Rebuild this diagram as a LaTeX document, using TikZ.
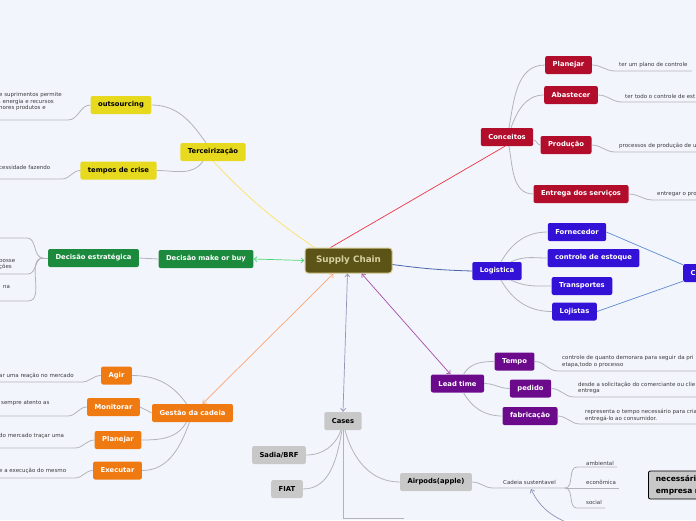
\documentclass[tikz,border=0pt]{standalone}
\usepackage{fontspec}
\setmainfont{DejaVu Sans}
\usetikzlibrary{arrows.meta}

\definecolor{bgc}{HTML}{F3F5FD}
\definecolor{scfill}{HTML}{5C5417}
\definecolor{scedge}{HTML}{D2CA8E}
\definecolor{sctext}{HTML}{D8D0A2}
\definecolor{yelc}{HTML}{E6D91E}
\definecolor{grnc}{HTML}{1B8A3C}
\definecolor{orac}{HTML}{EF7A12}
\definecolor{grayc}{HTML}{C8C8C8}
\definecolor{redc}{HTML}{B30D2C}
\definecolor{bluc}{HTML}{3411D6}
\definecolor{purc}{HTML}{6C0A8C}
\definecolor{twigc}{HTML}{B4B4B8}
\definecolor{leafc}{HTML}{3C3C3C}
\definecolor{footc}{HTML}{8A94B4}
\definecolor{logic}{HTML}{4A64A8}
\definecolor{custc}{HTML}{5A8AD0}

\begin{document}
\begin{tikzpicture}[x=1pt,y=-1pt,
  box/.style={rounded corners=2pt, minimum height=18pt, inner xsep=7.5pt, inner ysep=2pt,
    font=\bfseries\fontsize{6.8}{8}\selectfont, text=white},
  leaf/.style={font=\fontsize{5.5}{6.8}\selectfont, text=leafc, align=left, inner sep=0pt, anchor=west},
  twig/.style={draw=twigc, line width=0.8pt},
  >={Straight Barb[length=3pt,width=5pt]}]
\clip (0,0) rectangle (696,520);
\fill[bgc] (0,0) rectangle (696,520);

% centre
\node[box, fill=scfill, draw=scedge, line width=1pt, text=sctext, minimum width=87pt, minimum height=25pt,
  rounded corners=3pt, font=\bfseries\fontsize{8.8}{10}\selectfont] (sc) at (348.5,260.5) {Supply Chain};

% Terceirizacao
\node[box, fill=yelc, text=black] (terc) at (213,152) {Terceirização};
\node[box, fill=yelc, text=black] (outs) at (121,105) {outsourcing};
\node[box, fill=yelc, text=black] (crise) at (118.5,170.5) {tempos de crise};
\node[leaf] (outsT) at (-1,101.5) {e suprimentos permite\\, energia e recursos\\hores produtos e};
\node[leaf] (criseT) at (-1,167) {cessidade fazendo};
\coordinate (outsL) at (68,120);
\coordinate (criseL) at (62,179);
\draw[twig] (outs.east) to[out=0,in=125] ([xshift=-7pt]terc.north);
\draw[twig] (crise.east) to[out=0,in=-125] ([xshift=-10pt]terc.south);
\draw[twig] (outs.west) to[out=180,in=0] (outsL) -- (-5,120);
\draw[twig] (crise.west) to[out=180,in=0] (criseL) -- (-5,179);

% Decisao
\node[box, fill=grnc] (mob) at (206,259) {Decisão make or buy};
\node[box, fill=grnc] (dest) at (93.5,258) {Decisão estratégica};
\node[leaf] (destA) at (-1,264.5) {posse\\ções};
\node[leaf] (destB) at (3,287) {na};
\coordinate (destJ) at (43,258);
\draw[twig] (dest.east) -- (mob.west);
\draw[twig] (dest.west) -- (destJ);
\draw[twig] (destJ) to[out=180,in=0] (27,238) -- (-5,238);
\draw[twig] (destJ) to[out=180,in=0] (28,274) -- (-5,274);
\draw[twig] (destJ) to[out=180,in=0] (28,301) -- (-5,301);

% Gestao da cadeia
\node[box, fill=orac] (gest) at (192.5,413) {Gestão da cadeia};
\node[box, fill=orac] (agir) at (116.5,375.5) {Agir};
\node[box, fill=orac] (monit) at (113.5,407) {Monitorar};
\node[box, fill=orac] (plang) at (118,440) {Planejar};
\node[box, fill=orac] (exec) at (117.5,470.5) {Executar};
\node[leaf] (agirT) at (-1,376) {ar uma reação no mercado};
\node[leaf] (monitT) at (1,403) {sempre atento as};
\node[leaf] (plangT) at (-1,436) {do mercado traçar uma};
\node[leaf] (execT) at (-1,471) {e a execução do mesmo};
\draw[twig] (agir.east) to[out=0,in=125] ([xshift=-6pt]gest.north);
\draw[twig] (monit.east) -- (gest.west);
\draw[twig] (plang.east) to[out=0,in=-120] ([xshift=-6pt]gest.south);
\draw[twig] (exec.east) to[out=0,in=-110] ([xshift=-3pt]gest.south);
\draw[twig] (agir.west) to[out=180,in=0] (82,382) -- (-5,382);
\draw[twig] (monit.west) to[out=180,in=0] (68,416) -- (-5,416);
\draw[twig] (plang.west) to[out=180,in=0] (75,448) -- (-5,448);
\draw[twig] (exec.west) to[out=180,in=0] (75,478) -- (-5,478);

% Cases
\node[box, fill=grayc, text=black] (cases) at (343,421) {Cases};
\node[box, fill=grayc, text=black] (sadia) at (279,455) {Sadia/BRF};
\node[box, fill=grayc, text=black] (fiat) at (287,489) {FIAT};
\node[box, fill=grayc, text=black] (airp) at (436,482) {Airpods(apple)};
\coordinate (casesEnd) at (404,518);
\draw[twig] (sadia.east) to[out=0,in=-110] ([xshift=-2pt]cases.south);
\draw[twig] (fiat.east) to[out=0,in=-100] ([xshift=-1pt]cases.south);
\draw[twig] (airp.west) to[out=180,in=-75] ([xshift=2pt]cases.south);
\draw[twig] (cases.south) |- (casesEnd);
\node[leaf] (cadeia) at (503,482) {Cadeia sustentavel};
\node[leaf] (amb) at (586,463) {ambiental};
\node[leaf] (eco) at (586,482) {econômica};
\node[leaf] (soc) at (586,502) {social};
\coordinate (cadJ) at (565,488);
\draw[twig] (airp.east) to[out=0,in=180] (493,488) -- (cadJ);
\draw[twig] (cadJ) to[out=0,in=180] (577,467) -- (617,467);
\draw[twig] (cadJ) -- (619,488);
\draw[twig] (cadJ) to[out=0,in=180] (577,508) -- (605,508);
\coordinate (arrowFoot) at (576,526);
\draw[->, draw=footc, line width=0.7pt] (arrowFoot) to[out=160,in=-65] (531,489);
\node[box, fill=grayc, draw=black, line width=0.8pt, text=black, anchor=west, align=left, text width=80pt,
  minimum height=28pt, font=\bfseries\fontsize{7.5}{12}\selectfont] (nec) at (648,485) {necessário\\empresa n};

% Conceitos
\node[box, fill=redc] (conc) at (507,137) {Conceitos};
\node[box, fill=redc] (planc) at (568.5,65) {Planejar};
\node[box, fill=redc] (abast) at (571,95) {Abastecer};
\node[box, fill=redc] (prod) at (566,145) {Produção};
\node[box, fill=redc] (entr) at (581,194) {Entrega dos serviços};
\node[leaf] (plancT) at (619,65) {ter um plano de controle};
\node[leaf] (abastT) at (625,96) {ter todo o controle de est};
\node[leaf] (prodT) at (619,146) {processos de produção de u};
\node[leaf] (entrT) at (657,194) {entregar o pro};
\draw[twig] ([xshift=2pt]conc.north) to[out=80,in=180] (planc.west);
\draw[twig] ([xshift=4pt]conc.north) to[out=70,in=180] (abast.west);
\draw[twig] ([yshift=-3pt]conc.east) to[out=0,in=180] (prod.west);
\draw[twig] ([xshift=2pt]conc.south) to[out=-80,in=180] (entr.west);
\draw[twig] (planc.east) to[out=0,in=180] (615,71) -- (692,71);
\draw[twig] (abast.east) to[out=0,in=180] (622,102) -- (700,102);
\draw[twig] (prod.east) to[out=0,in=180] (615,152) -- (700,152);
\draw[twig] (entr.east) to[out=0,in=180] (653,200) -- (700,200);

% Logistica
\node[box, fill=bluc] (logi) at (497,271) {Logistica};
\node[box, fill=bluc] (forn) at (577,232) {Fornecedor};
\node[box, fill=bluc] (estq) at (593.5,258) {controle de estoque};
\node[box, fill=bluc] (transp) at (582,286) {Transportes};
\node[box, fill=bluc] (loj) at (574.5,311.5) {Lojistas};
\node[box, fill=bluc, anchor=west, text width=40pt, align=left] (cbox) at (683,273) {C};
\draw[twig] ([xshift=4pt]logi.north) to[out=60,in=180] (forn.west);
\draw[twig] ([xshift=14pt]logi.north) to[out=25,in=180] (estq.west);
\draw[twig] ([xshift=14pt]logi.south) to[out=-25,in=180] (transp.west);
\draw[twig] ([xshift=4pt]logi.south) to[out=-60,in=180] (loj.west);
\draw[draw=custc, line width=0.7pt] (forn.east) -- ([yshift=-1pt]cbox.north west);
\draw[draw=custc, line width=0.7pt] (loj.east) -- ([yshift=1pt]cbox.south west);

% Lead time
\node[box, fill=purc] (lead) at (457.5,383.5) {Lead time};
\node[box, fill=purc] (tempo) at (514.5,361.5) {Tempo};
\node[box, fill=purc] (pedido) at (530.5,388.5) {pedido};
\node[box, fill=purc] (fabr) at (530,416) {fabricação};
\node[leaf] (tempoT) at (562,361.5) {controle de quanto demorara para seguir da pri\\etapa,todo o processo};
\node[leaf] (pedidoT) at (578,388) {desde a solicitação do comerciante ou clie\\entrega};
\node[leaf] (fabrT) at (585,415.5) {representa o tempo necessário para cria\\entregá-lo ao consumidor.};
\draw[twig] ([xshift=6pt]lead.north) to[out=60,in=180] (tempo.west);
\draw[twig] (lead.east) to[out=0,in=180] (pedido.west);
\draw[twig] ([xshift=6pt]lead.south) to[out=-60,in=180] (fabr.west);
\draw[twig] (tempo.east) to[out=0,in=180] (558,371) -- (700,371);
\draw[twig] (pedido.east) to[out=0,in=180] (574,397) -- (700,397);
\draw[twig] (fabr.east) to[out=0,in=180] (580,424) -- (700,424);

% main branches
\draw[draw=yellow!70!orange!60, line width=0.7pt] ([xshift=10pt]sc.north west) to[bend left=6] (terc.south);
\draw[draw=red!70!purple!80!white, line width=0.7pt] ([xshift=26pt]sc.north west) -- ([xshift=-2pt]conc.south);
\draw[draw=logic, line width=0.8pt] ([yshift=-4pt]sc.east) to[bend right=3] (logi.west);
\draw[<->, draw=green!55!teal!70!white, line width=0.7pt] (mob.east) -- (sc.west);
\draw[<->, draw=orange!70!red!55!white, line width=0.7pt] ([xshift=10pt]gest.north) -- ([xshift=-15pt]sc.south);
\draw[<->, draw=gray!80!blue!70, line width=0.7pt] (cases.north) -- ([xshift=-1pt]sc.south);
\draw[<->, draw=violet!70!white, line width=0.7pt] ([xshift=-7pt]lead.north) -- ([xshift=13pt]sc.south);
\end{tikzpicture}
\end{document}
